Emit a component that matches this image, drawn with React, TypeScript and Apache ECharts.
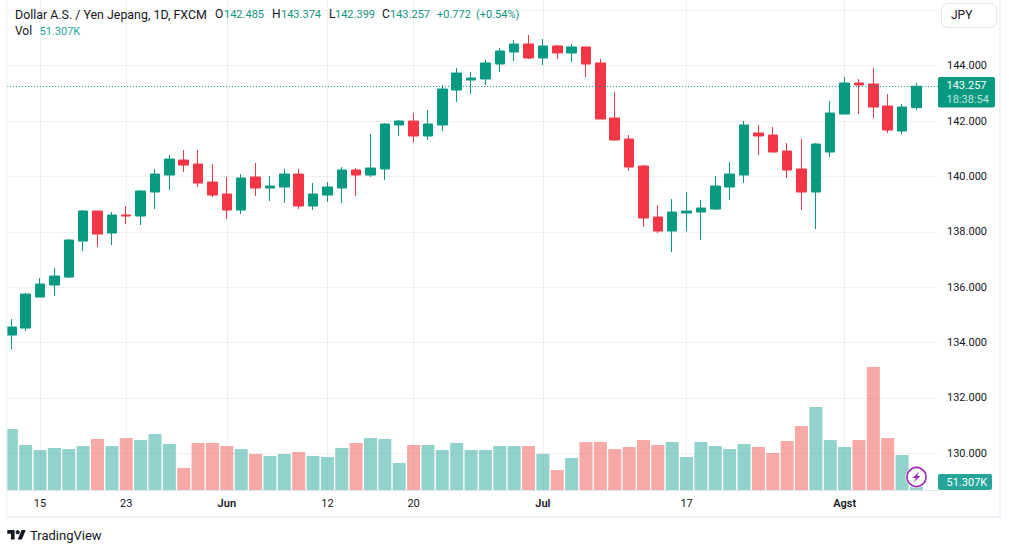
import React, { useEffect, useRef } from "react";
import * as echarts from "echarts";

const dates = [
  "05-11","05-12","05-15","05-16","05-17","05-18","05-19","05-22","05-23","05-24","05-25","05-26","05-29","05-30","05-31",
  "06-01","06-02","06-05","06-06","06-07","06-08","06-09","06-12","06-13","06-14","06-15","06-16","06-19","06-20","06-21",
  "06-22","06-23","06-26","06-27","06-28","06-29","06-30","07-03","07-04","07-05","07-06","07-07","07-10","07-11","07-12",
  "07-13","07-14","07-17","07-18","07-19","07-20","07-21","07-24","07-25","07-26","07-27","07-28","07-31","08-01","08-02",
  "08-03","08-04","08-07","08-08","08-09",
];
const dateLabels: Record<string, string> = {
  "05-15": "15", "05-23": "23", "06-01": "Jun", "06-12": "12", "06-20": "20", "07-03": "Jul", "07-17": "17", "08-01": "Agst",
};
const opens = [
  134.271,134.524,135.644,136.077,136.366,137.667,138.751,137.956,138.606,138.570,139.437,140.051,140.593,140.449,139.798,139.365,
  138.787,139.979,139.582,139.618,140.087,138.931,139.329,139.582,140.232,140.051,140.268,141.858,142.002,141.460,141.858,143.122,
  143.483,143.520,144.061,144.495,144.784,144.278,144.712,144.459,144.676,144.098,142.111,141.352,140.376,138.534,138.028,138.678,
  138.715,138.823,139.618,140.051,141.569,141.496,140.918,140.268,139.437,140.882,142.255,143.375,143.339,142.544,141.641,142.485,
];
const closes = [
  134.560,135.752,136.113,136.403,137.703,138.751,137.920,138.606,138.570,139.473,140.087,140.629,140.412,139.762,139.329,138.787,
  139.943,139.582,139.654,140.087,138.931,139.365,139.618,140.232,140.051,140.304,141.894,142.002,141.460,141.894,143.158,143.736,
  143.556,144.098,144.531,144.784,144.278,144.712,144.459,144.676,144.061,142.075,141.316,140.340,138.498,138.028,138.715,138.751,
  138.859,139.654,140.087,141.858,141.460,140.882,140.232,139.437,141.171,142.291,143.375,143.303,142.508,141.677,142.508,143.257,
];
const lows = [
  133.765,134.415,135.644,135.680,136.330,137.306,137.450,137.523,138.281,138.245,138.823,139.509,140.160,139.618,139.257,138.462,
  138.642,139.293,139.112,139.040,138.823,138.787,139.076,139.040,139.293,139.979,139.871,141.460,141.243,141.316,141.641,142.689,
  142.977,143.303,143.772,144.170,144.242,144.025,144.242,144.134,143.592,142.075,141.316,140.196,138.173,137.956,137.270,138.028,
  137.703,138.787,139.148,139.762,140.774,140.882,139.943,138.787,138.100,140.702,142.255,142.255,142.111,141.569,141.532,142.399,
];
const highs = [
  134.849,135.788,136.330,136.692,137.739,138.787,138.751,138.715,138.931,139.509,140.268,140.774,140.955,140.955,140.449,139.979,
  140.087,140.485,140.015,140.268,140.268,139.762,139.798,140.340,140.304,141.532,141.930,142.038,142.291,142.400,143.303,143.917,
  143.772,144.206,144.639,144.929,145.109,144.965,144.748,144.784,144.676,144.242,143.050,141.496,140.412,138.967,139.184,139.437,
  139.148,140.015,140.521,142.002,141.858,141.785,141.207,141.352,141.207,142.725,143.592,143.520,143.917,142.977,142.616,143.374,
];
const volumesK = [
  1043,770,684,718,701,752,872,752,889,855,958,787,376,804,804,752,701,616,581,616,650,581,564,718,804,889,872,462,770,770,684,804,
  684,684,752,752,752,616,342,547,821,821,701,735,855,770,821,564,821,752,701,787,735,633,838,1094,1419,855,735,855,2103,889,599,51.307,
];
const priceTicks = { min: 130, max: 146, step: 2 };
const legendTitle = "Dollar A.S. / Yen Jepang, 1D, FXCM";

const GREEN = "#089981";
const RED = "#F23645";
const INK = "#131722";
const VOL_GREEN = "rgba(38,166,154,0.5)";
const VOL_RED = "rgba(239,83,80,0.5)";
const GRID = "rgba(42,46,57,0.07)";
const FRAME = "#F0F3FA";
const FONT = "Roboto, 'Noto Sans', sans-serif";

echarts.graphic.registerShape(
  "tvlogo",
  echarts.graphic.extendPath("M14 22H7V11H0V4h14v18zM28 22h-8l7.5-18h8L28 22z", {}) as any,
);

const txt = (x: number, y: number, text: string, fill: string, size = 12, extra: any = {}) => ({
  type: "text",
  x,
  y,
  z: 110,
  style: { text, fill, font: `${extra.weight || 400} ${size}px ${FONT}`, textVerticalAlign: "middle", textAlign: extra.align || "left", opacity: extra.opacity ?? 1 },
});
const rect = (x: number, y: number, width: number, height: number, fill: string, r = 0, stroke?: string) => ({
  type: "rect",
  z: 100,
  shape: { x, y, width, height, r },
  style: { fill, stroke },
});

export default function App() {
  const ref = useRef<HTMLDivElement>(null);
  useEffect(() => {
    const chart = echarts.init(ref.current!, undefined, { renderer: "svg" });
    const labelled = (_: number, v: string) => v in dateLabels;
    const teal = "#13967F";
    chart.setOption({
      animation: false,
      backgroundColor: "#fff",
      grid: [
        { left: 4.12, right: 71, top: 10.34, height: 442.96, containLabel: false },
        { left: 4.12, right: 71, top: 0, height: 490, containLabel: false },
      ],
      xAxis: [
        { type: "category", gridIndex: 0, data: dates, show: false },
        {
          type: "category",
          gridIndex: 1,
          data: dates,
          axisLine: { show: true, lineStyle: { color: "#E0E3EB", width: 1 } },
          axisTick: { show: false, alignWithLabel: true, interval: labelled },
          splitLine: { show: true, alignWithLabel: true, interval: labelled, lineStyle: { color: GRID, width: 1 } },
          axisLabel: {
            interval: labelled,
            margin: 8,
            color: INK,
            fontFamily: FONT,
            fontSize: 11,
            hideOverlap: false,
            formatter: (v: string) => {
              const t = dateLabels[v] || "";
              return /[A-Z]/.test(t) ? `{b|${t}}` : t;
            },
            rich: { b: { fontWeight: 600, fontFamily: FONT, fontSize: 11, color: INK } },
          },
        },
      ],
      yAxis: [
        {
          type: "value",
          gridIndex: 0,
          position: "right",
          min: priceTicks.min,
          max: priceTicks.max,
          interval: priceTicks.step,
          axisLine: { show: false },
          axisTick: { show: false },
          splitLine: { show: true, lineStyle: { color: GRID, width: 1 } },
          axisLabel: { showMaxLabel: false, margin: 9, color: INK, fontFamily: FONT, fontSize: 11, formatter: (v: number) => v.toFixed(3) },
        },
        { type: "value", gridIndex: 1, min: 0, max: 8379, show: false, splitLine: { show: false } },
      ],
      series: [
        {
          type: "bar",
          name: "Vol",
          xAxisIndex: 1,
          yAxisIndex: 1,
          z: 1,
          barWidth: 13,
          data: volumesK.map((v, i) => ({
            value: v,
            itemStyle: { color: closes[i] >= opens[i] ? VOL_GREEN : VOL_RED },
          })),
        },
        {
          type: "candlestick",
          name: "USDJPY",
          xAxisIndex: 0,
          yAxisIndex: 0,
          z: 3,
          barWidth: 10,
          clip: false,
          itemStyle: { color: GREEN, color0: RED, borderColor: GREEN, borderColor0: RED, borderWidth: 1 },
          data: opens.map((o, i) => [o, closes[i], lows[i], highs[i]]),
          markLine: {
            silent: true,
            symbol: "none",
            label: { show: false },
            lineStyle: { color: GREEN, type: [1, 2], width: 1 },
            data: [{ yAxis: closes[closes.length - 1] }],
          },
        },
      ],
      graphic: [
        // frame
        rect(0, 0, 6, 520, "#fff"),
        rect(6, 0, 1.4, 518, FRAME),
        rect(6, 516, 995, 2, FRAME),
        rect(999, 0, 2, 518, FRAME),
        // legend
        txt(15, 14, legendTitle, INK, 12.4),
        txt(215, 14, "O", INK),
        txt(224, 14, opens[63].toFixed(3), teal, 11),
        txt(272, 14, "H", INK),
        txt(281, 14, highs[63].toFixed(3), teal, 11),
        txt(329, 14, "L", INK),
        txt(335, 14, lows[63].toFixed(3), teal, 11),
        txt(382, 14, "C", INK),
        txt(390, 14, closes[63].toFixed(3), teal, 11),
        txt(437, 14, "+0.772", teal, 11),
        txt(476, 14, "(+0.54%)", teal, 11),
        txt(15, 31, "Vol", INK),
        txt(39.5, 31, "51.307K", "#26A69A", 11),
        // currency button
        rect(941.5, 3.5, 55, 24, "#fff", 6, "#E0E3EB"),
        txt(951, 15, "JPY", INK),
        // price tag
        rect(938, 77, 57, 30.5, GREEN, 2),
        txt(946.5, 85.5, closes[63].toFixed(3), "#fff", 11),
        txt(946.5, 99.5, "18:38:54", "#fff", 11, { opacity: 0.75 }),
        // volume tag
        rect(938, 474, 54, 16, "#26A69A", 2),
        txt(946.5, 482, "51.307K", "#fff", 11),
        // bolt badge
        { type: "circle", z: 105, shape: { cx: 916.5, cy: 477, r: 11 }, style: { fill: "#fff" } },
        { type: "circle", z: 106, shape: { cx: 916.5, cy: 477, r: 9.5 }, style: { fill: "#fff", stroke: "#9C27B0", lineWidth: 1.6 } },
        {
          type: "polygon",
          z: 107,
          shape: { points: [[919.5, 471.5], [912.5, 478], [916, 478], [913.5, 482.5], [920.5, 476], [917, 476]] },
          style: { fill: "#9C27B0" },
        },
        // logo
        { type: "tvlogo", z: 100, x: 7.3, y: 528, scaleX: 0.52, scaleY: 0.52, style: { fill: INK } },
        { type: "circle", z: 100, shape: { cx: 17.7, cy: 532.2, r: 2.1 }, style: { fill: INK } },
        txt(30, 535, "TradingView", INK, 13),
      ],
    });
    return () => chart.dispose();
  }, []);
  return <div ref={ref} style={{ position: "absolute", left: 0, top: 0, width: 1009, height: 552 }} />;
}
